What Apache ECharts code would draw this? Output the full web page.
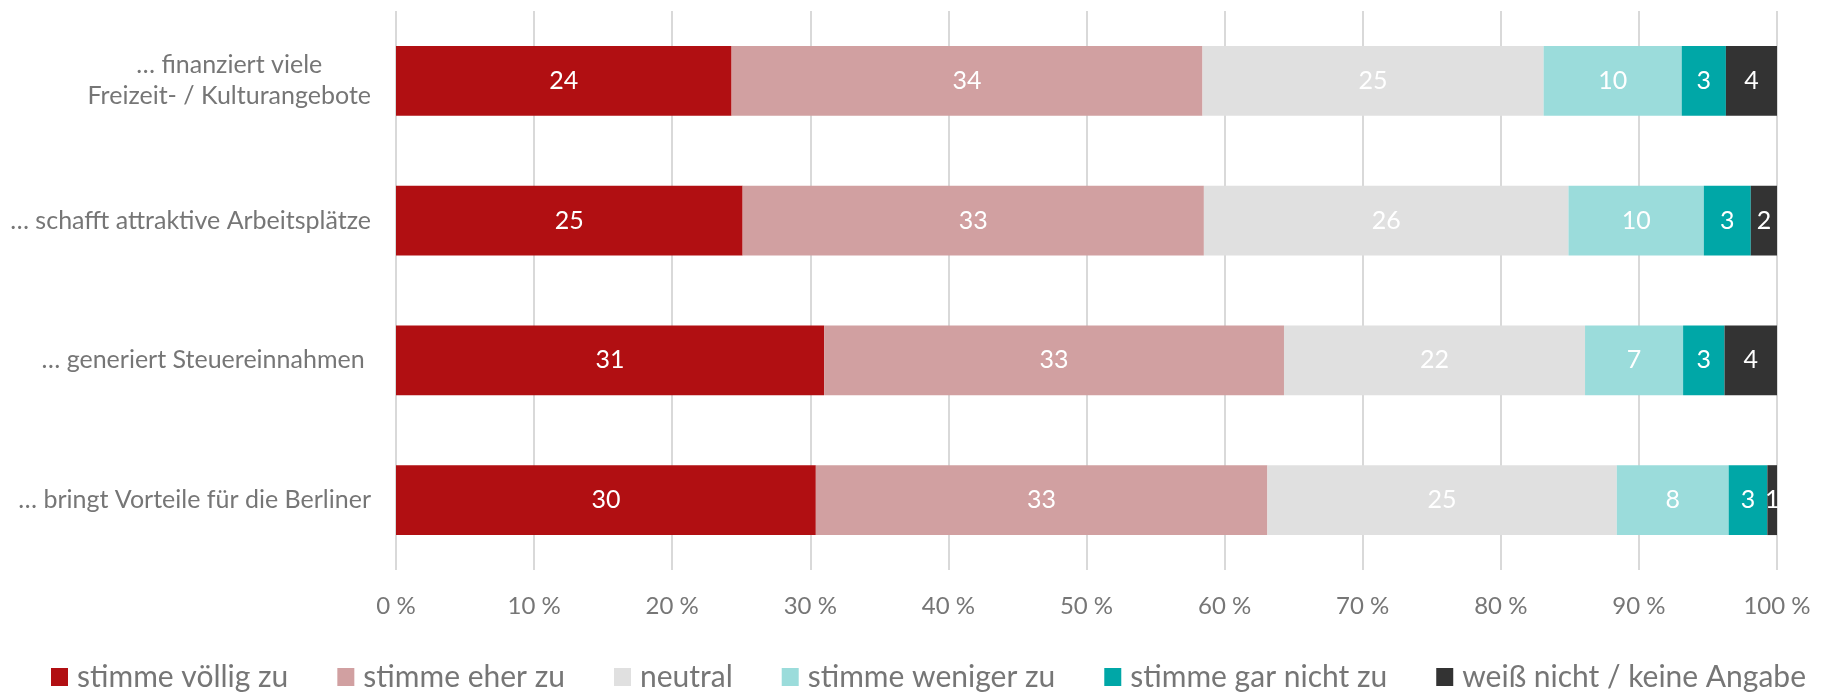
<!DOCTYPE html>
<html>
<head>
<meta charset="utf-8">
<script src="https://cdn.jsdelivr.net/npm/echarts@6/dist/echarts.min.js"></script>
<style>
html,body{margin:0;padding:0;background:#fff;}
#chart{width:1827px;height:698px;}
</style>
</head>
<body>
<div id="chart"></div>
<script>
const categories = [
  '… finanziert viele\nFreizeit- / Kulturangebote',
  '… schafft attraktive Arbeitsplätze',
  '… generiert Steuereinnahmen ',
  '… bringt Vorteile für die Berliner'
];
const seriesNames = ['stimme völlig zu', 'stimme eher zu', 'neutral', 'stimme weniger zu', 'stimme gar nicht zu', 'weiß nicht / keine Angabe'];
const voelligZu   = [24.3, 25.1, 31.0, 30.4];
const eherZu      = [34.1, 33.4, 33.3, 32.7];
const neutral     = [24.7, 26.4, 21.8, 25.3];
const wenigerZu   = [10.0, 9.8, 7.1, 8.1];
const garNichtZu  = [3.2, 3.4, 3.0, 2.8];
const weissNicht  = [3.7, 1.9, 3.8, 0.7];
const tickValues  = [0, 10, 20, 30, 40, 50, 60, 70, 80, 90, 100];

const colors = ['#B10F12', '#D1A0A1', '#E0E0E0', '#9BDCDB', '#00A7A7', '#333333'];
const seriesData = [voelligZu, eherZu, neutral, wenigerZu, garNichtZu, weissNicht];
const FONT = 'Lato';
const GRAY = '#767676';

const chart = echarts.init(document.getElementById('chart'), null, {renderer: 'canvas'});
chart.setOption({
  animation: false,
  backgroundColor: '#fff',
  textStyle: {fontFamily: FONT},
  grid: {left: 396, right: 50, top: 11, bottom: 128, containLabel: false},
  legend: {
    data: seriesNames,
    left: 46,
    bottom: 1,
    itemWidth: 17,
    itemHeight: 18,
    itemGap: 49,
    icon: 'rect',
    textStyle: {color: GRAY, fontSize: 30, fontFamily: FONT, padding: [0, 0, 0, 4]}
  },
  xAxis: {
    type: 'value',
    min: 0,
    max: 100,
    interval: 10,
    axisLine: {show: false},
    axisTick: {show: false},
    splitLine: {show: true, lineStyle: {color: '#D9D9D9', width: 2}},
    axisLabel: {
      color: GRAY, fontSize: 24, fontFamily: FONT, margin: 24,
      formatter: v => tickValues.includes(v) ? v + ' %' : ''
    }
  },
  yAxis: {
    type: 'category',
    data: categories,
    inverse: true,
    axisLine: {show: false},
    axisTick: {show: false},
    axisLabel: {
      color: GRAY, fontSize: 25, fontFamily: FONT, margin: 25, lineHeight: 31,
      formatter: v => v.split('\n').map(s => '{c|' + s + '}').join('\n'),
      rich: {c: {align: 'center', color: GRAY, fontSize: 25, fontFamily: FONT, lineHeight: 31}}
    }
  },
  series: seriesNames.map((name, i) => ({
    name: name,
    type: 'bar',
    stack: 'total',
    barWidth: '50%',
    data: seriesData[i],
    itemStyle: {color: colors[i]},
    label: {
      show: true,
      position: 'inside',
      color: '#fff',
      fontSize: 25,
      fontFamily: FONT,
      formatter: p => Math.round(p.value)
    }
  }))
});
</script>
</body>
</html>
